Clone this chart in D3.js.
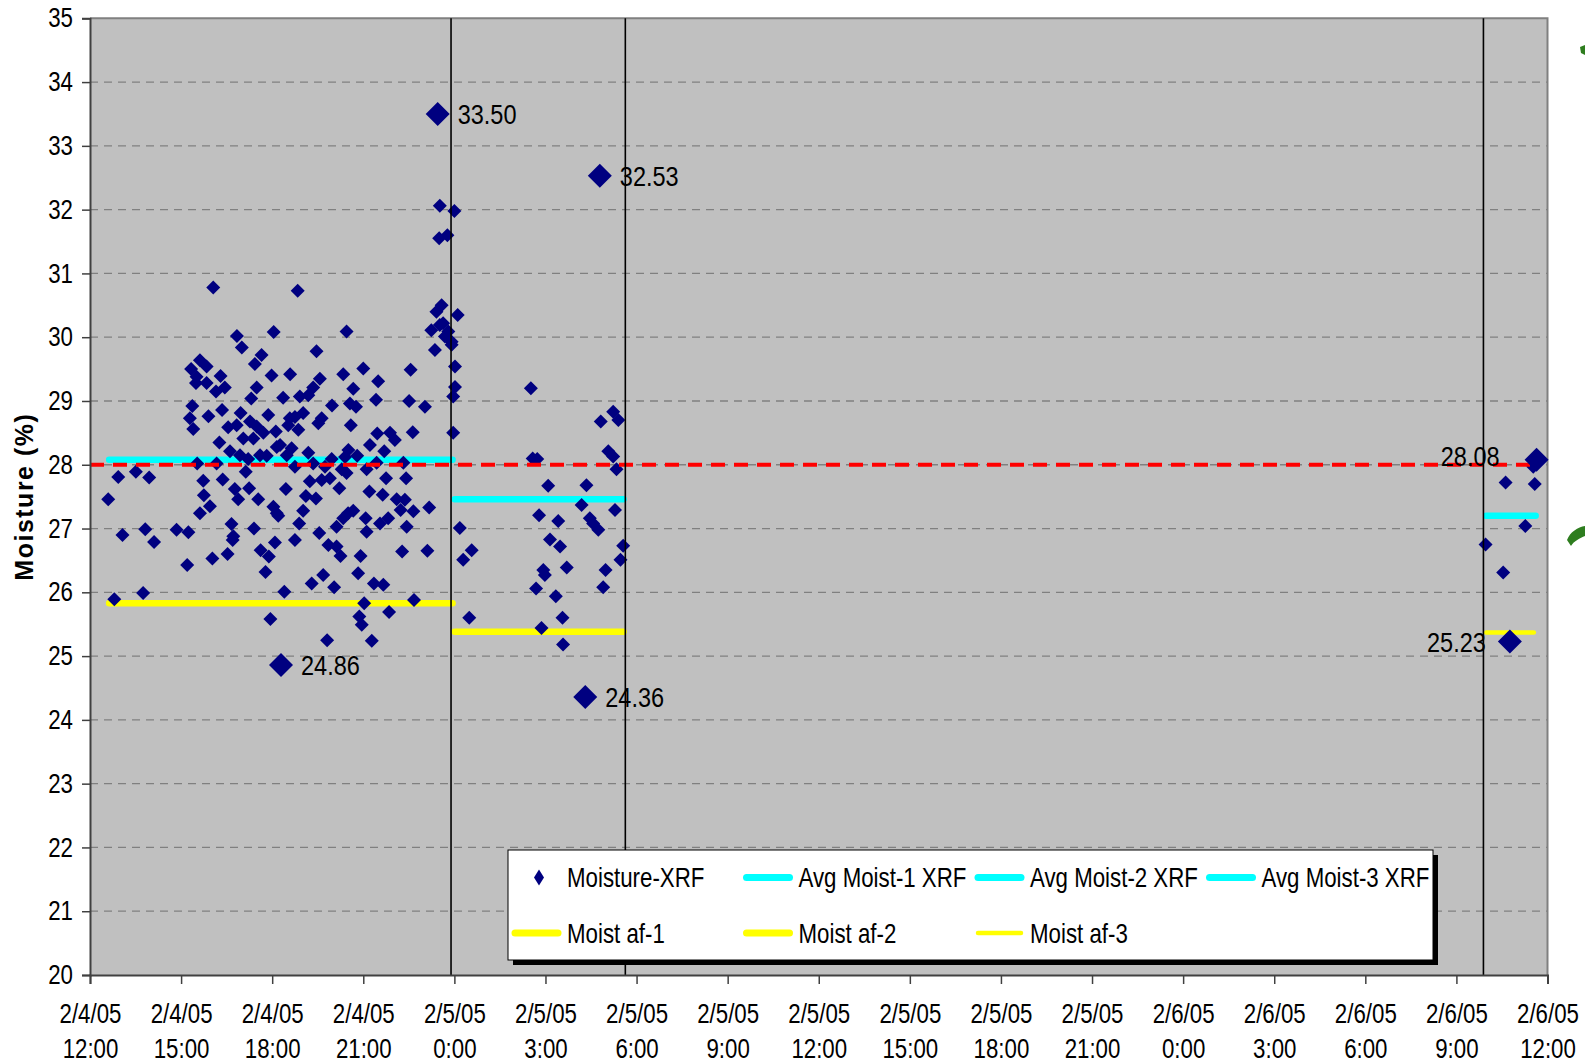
<!DOCTYPE html>
<html>
<head>
<meta charset="utf-8">
<script src="https://cdn.jsdelivr.net/npm/d3@7"></script>
<style>
  body { margin: 0; background: #fff; }
  svg { display: block; }
</style>
</head>
<body>
<div id="chart"></div>
<script>
// Moisture readings, XRF
// times are hours after 2/4/05 12:00
const startTime = '2/4/05 12:00';
const axisHours = [0, 48];
const tickStepHours = 3;
const moistureRange = [20, 35];
const targetMoisture = 28;

const xrfPoints = [
  [4.06,30.78],[4.84,30.02],[5.00,29.84],[6.05,30.08],[5.65,29.72],[5.43,29.58],[3.62,29.64],[3.84,29.54],
  [3.33,29.50],[3.51,29.38],[3.49,29.28],[3.84,29.28],[4.30,29.39],[4.15,29.15],[4.44,29.21],[5.98,29.40],
  [5.49,29.21],[5.31,29.04],[3.37,28.92],[3.90,28.76],[4.35,28.86],[3.29,28.73],[3.40,28.56],[4.96,28.81],
  [5.87,28.78],[4.83,28.62],[4.55,28.59],[5.27,28.68],[5.49,28.60],[5.71,28.50],[6.12,28.52],[5.05,28.41],
  [5.38,28.41],[4.26,28.35],[4.61,28.21],[4.94,28.15],[5.21,28.09],[5.60,28.15],[5.82,28.14],[6.15,28.28],
  [3.53,28.02],[4.17,28.02],[0.93,27.81],[1.51,27.89],[1.95,27.80],[5.13,27.89],[3.73,27.75],[4.37,27.77],
  [4.77,27.62],[5.24,27.63],[4.88,27.46],[5.54,27.46],[0.60,27.46],[3.75,27.52],[3.95,27.35],[3.62,27.24],
  [6.04,27.34],[6.15,27.24],[1.07,26.90],[1.82,26.99],[2.11,26.79],[2.85,26.98],[3.24,26.94],[4.66,27.07],
  [4.72,26.88],[4.70,26.82],[5.40,27.00],[6.09,26.78],[5.62,26.66],[5.89,26.56],[3.20,26.43],[4.03,26.53],
  [4.53,26.60],[5.78,26.32],[0.80,25.89],[1.75,25.99],[5.94,25.58],
  [6.84,30.73],[8.45,30.09],[7.46,29.78],[6.59,29.42],[7.57,29.35],[8.34,29.42],[9.00,29.51],[9.49,29.31],
  [10.56,29.49],[7.35,29.21],[7.19,29.09],[6.91,29.07],[6.36,29.05],[8.67,29.19],[8.56,28.96],[8.76,28.91],
  [7.97,28.93],[9.42,29.02],[10.51,29.00],[11.03,28.91],[7.02,28.81],[7.63,28.73],[7.52,28.65],[6.58,28.73],
  [6.75,28.75],[6.53,28.62],[6.86,28.55],[8.59,28.62],[9.46,28.49],[9.88,28.50],[10.04,28.39],[10.63,28.51],
  [9.22,28.31],[9.69,28.21],[6.26,28.31],[6.64,28.26],[6.48,28.15],[7.19,28.19],[7.96,28.09],[8.51,28.23],
  [8.40,28.12],[8.80,28.14],[6.75,27.97],[7.35,28.02],[7.74,27.97],[8.29,27.93],[9.11,27.93],[9.44,28.03],
  [10.32,28.03],[7.24,27.74],[7.63,27.76],[7.90,27.79],[8.21,27.63],[8.45,27.87],[9.75,27.79],[10.41,27.79],
  [6.45,27.62],[7.11,27.51],[7.44,27.47],[9.20,27.58],[9.64,27.53],[10.10,27.46],[10.37,27.45],[10.65,27.27],
  [11.17,27.33],[6.20,27.20],[7.02,27.28],[6.89,27.08],[8.50,27.24],[8.67,27.28],[8.34,27.16],[8.12,27.03],
  [9.08,27.16],[9.11,26.95],[9.55,27.08],[9.82,27.16],[10.23,27.29],[10.43,27.03],[7.55,26.93],[6.75,26.82],
  [7.85,26.74],[8.12,26.72],[8.25,26.57],[8.91,26.57],[10.28,26.64],[11.11,26.65],[7.68,26.27],[7.30,26.14],
  [8.04,26.08],[8.83,26.30],[9.35,26.14],[9.66,26.12],[6.40,26.01],[9.03,25.83],[10.67,25.88],[8.87,25.62],
  [8.95,25.49],[9.85,25.69],[7.81,25.25],[9.28,25.24],
  [11.58,30.50],[11.41,30.40],[11.24,30.11],[11.63,30.22],[11.80,30.09],[11.36,29.80],[11.91,29.93],[12.02,29.54],
  [12.02,29.22],[11.96,29.07],[11.96,28.50],[11.52,32.06],[12.00,31.98],[11.50,31.55],[11.77,31.60],[12.11,30.35],
  [11.52,30.19],[11.69,30.01],[11.91,29.88],
  [14.52,29.20],[17.23,28.83],[17.40,28.70],[16.82,28.68],[14.58,28.10],[14.73,28.09],[17.07,28.21],[17.23,28.13],
  [17.34,27.93],[15.09,27.67],[16.35,27.68],[16.19,27.37],[17.29,27.29],[12.18,27.01],[14.79,27.21],[15.42,27.12],
  [16.46,27.16],[16.57,27.08],[16.74,26.98],[12.57,26.66],[12.29,26.51],[15.15,26.83],[15.48,26.72],[17.56,26.73],
  [17.47,26.51],[14.93,26.35],[14.98,26.27],[15.70,26.39],[16.98,26.35],[14.69,26.06],[15.34,25.94],[16.90,26.08],
  [12.49,25.60],[15.56,25.60],[14.87,25.44],[15.58,25.18],
  [46.62,27.72],[47.58,27.70],[47.27,27.04],[45.96,26.75],[46.54,26.31],[47.53,27.97]
];

// max / min of each run, labelled
const peakPoints = [
  [11.45, 33.50], [16.79, 32.53], [6.29, 24.86], [16.31, 24.36], [46.76, 25.23], [47.64, 28.08]
];
const peaksLabelledLeft = [25.23, 28.08];

// run boundaries
const markerHours = [11.89, 17.63, 45.89];

const avgXrf = [
  { name: 'Avg Moist-1 XRF', from: 0.63, to: 11.94, value: 28.08 },
  { name: 'Avg Moist-2 XRF', from: 12.01, to: 17.57, value: 27.46 },
  { name: 'Avg Moist-3 XRF', from: 45.98, to: 47.61, value: 27.20 }
];
const moistAf = [
  { name: 'Moist af-1', from: 0.63, to: 11.94, value: 25.83 },
  { name: 'Moist af-2', from: 12.01, to: 17.57, value: 25.38 },
  { name: 'Moist af-3', from: 45.98, to: 47.55, value: 25.37 }
];
const legendNames = ['Moisture-XRF', 'Avg Moist-1 XRF', 'Avg Moist-2 XRF', 'Avg Moist-3 XRF',
  'Moist af-1', 'Moist af-2', 'Moist af-3'];

const width = 1585;
const height = 1064;
const plot = { left: 90, right: 1547.5, top: 18.3, bottom: 975 };
const sans = "'Liberation Sans', Arial, sans-serif";
const squeeze = 0.825;   // Arial -> Arial Narrow look
const navy = '#000080';

const parseTime = d3.timeParse('%m/%d/%y %H:%M');
const t0 = parseTime(startTime);
const atHour = h => new Date(t0.getTime() + h * 3600e3);

const x = d3.scaleTime()
  .domain(axisHours.map(atHour))
  .range([plot.left, plot.right]);
const y = d3.scaleLinear()
  .domain(moistureRange)
  .range([plot.bottom, plot.top]);

const svg = d3.select('#chart')
  .append('svg')
  .attr('width', width)
  .attr('height', height)
  .style('font-family', sans);

const diamond = (rx, ry) => `M0,${-ry}L${rx},0L0,${ry}L${-rx},0Z`;

// plot area
svg.append('rect')
  .attr('x', plot.left)
  .attr('y', plot.top)
  .attr('width', plot.right - plot.left)
  .attr('height', plot.bottom - plot.top)
  .attr('fill', '#c0c0c0');

// grid lines
svg.append('g')
  .selectAll('line')
  .data(d3.range(moistureRange[0] + 1, moistureRange[1]))
  .enter()
  .append('line')
  .attr('x1', plot.left)
  .attr('x2', plot.right)
  .attr('y1', d => y(d))
  .attr('y2', d => y(d))
  .attr('stroke', '#808080')
  .attr('stroke-width', 1.3)
  .attr('stroke-dasharray', '8,6');

// border top / right
svg.append('path')
  .attr('d', `M${plot.left},${plot.top}H${plot.right}V${plot.bottom}`)
  .attr('fill', 'none')
  .attr('stroke', '#808080')
  .attr('stroke-width', 2);

// avg + af segments
const segLine = (data, color, widthFn) => {
  svg.append('g')
    .selectAll('line')
    .data(data)
    .enter()
    .append('line')
    .attr('x1', d => x(atHour(d.from)))
    .attr('x2', d => x(atHour(d.to)))
    .attr('y1', d => y(d.value))
    .attr('y2', d => y(d.value))
    .attr('stroke', color)
    .attr('stroke-width', widthFn)
    .attr('stroke-linecap', 'round');
};
segLine(avgXrf, '#00ffff', 6.5);
segLine(moistAf, '#ffff00', (d, i) => i === 2 ? 4.5 : 6.5);

// XRF points
svg.append('g')
  .selectAll('path')
  .data(xrfPoints)
  .enter()
  .append('path')
  .attr('d', diamond(7, 7))
  .attr('transform', d => `translate(${x(atHour(d[0]))},${y(d[1])})`)
  .attr('fill', navy);

// target line
svg.append('line')
  .attr('x1', plot.left)
  .attr('x2', x(atHour(47.6)))
  .attr('y1', y(targetMoisture))
  .attr('y2', y(targetMoisture))
  .attr('stroke', '#ff0000')
  .attr('stroke-width', 4)
  .attr('stroke-dasharray', '14,9');

// run boundaries
svg.append('g')
  .selectAll('line')
  .data(markerHours)
  .enter()
  .append('line')
  .attr('x1', d => x(atHour(d)))
  .attr('x2', d => x(atHour(d)))
  .attr('y1', plot.top)
  .attr('y2', plot.bottom)
  .attr('stroke', '#000')
  .attr('stroke-width', 1.6);

// peaks
const peaks = svg.append('g')
  .selectAll('g')
  .data(peakPoints)
  .enter()
  .append('g')
  .attr('transform', d => `translate(${x(atHour(d[0]))},${y(d[1])})`);

peaks.append('path')
  .attr('d', diamond(12, 12))
  .attr('fill', navy);

peaks.append('text')
  .attr('transform', `scale(${squeeze},1)`)
  .attr('x', d => (peaksLabelledLeft.includes(d[1]) ? (d[1] === 28.08 ? -37 : -24) : 20) / squeeze)
  .attr('y', d => d[1] === 28.08 ? -4 : 0)
  .attr('dy', '0.36em')
  .attr('text-anchor', d => peaksLabelledLeft.includes(d[1]) ? 'end' : 'start')
  .attr('font-size', '28.5px')
  .attr('fill', '#000')
  .text(d => d3.format('.2f')(d[1]));

// axes
const yAxis = svg.append('g')
  .attr('transform', `translate(${plot.left},0)`)
  .call(d3.axisLeft(y).ticks(15).tickSize(8).tickPadding(8).tickFormat(d3.format('d')));
yAxis.select('.domain').attr('stroke', '#404040').attr('stroke-width', 2);
yAxis.selectAll('.tick line').attr('stroke', '#404040').attr('stroke-width', 1.5);
yAxis.selectAll('.tick text')
  .attr('font-family', sans)
  .attr('font-size', '27px')
  .attr('fill', '#000')
  .attr('transform', `scale(${squeeze},1)`)
  .attr('x', -17 / squeeze);

const xTicks = d3.range(axisHours[0], axisHours[1] + 1, tickStepHours).map(atHour);
const fmtDate = d3.timeFormat('%-m/%-d/%y');
const fmtTime = d3.timeFormat('%-H:%M');
const xAxis = svg.append('g')
  .attr('transform', `translate(0,${plot.bottom})`)
  .call(d3.axisBottom(x).tickValues(xTicks).tickSize(9).tickFormat(''));
xAxis.select('.domain').attr('stroke', '#404040').attr('stroke-width', 2);
xAxis.selectAll('.tick line').attr('stroke', '#404040').attr('stroke-width', 1.5);
const xLab = xAxis.selectAll('.tick text')
  .attr('font-family', sans)
  .attr('font-size', '27px')
  .attr('fill', '#000')
  .attr('transform', `scale(${squeeze},1)`)
  .attr('y', 0)
  .attr('dy', null);
xLab.append('tspan').attr('x', 0).attr('y', 48).text(d => fmtDate(d));
xLab.append('tspan').attr('x', 0).attr('y', 83).text(d => fmtTime(d));

// y title
svg.append('text')
  .attr('transform', `translate(33,${(plot.top + plot.bottom) / 2}) rotate(-90)`)
  .attr('text-anchor', 'middle')
  .attr('font-weight', 'bold')
  .attr('font-size', '25px')
  .attr('letter-spacing', '1.5px')
  .attr('fill', '#000')
  .text('Moisture (%)');

// legend
const legend = svg.append('g').attr('transform', 'translate(508,850)');
legend.append('rect')
  .attr('x', 5).attr('y', 5)
  .attr('width', 925).attr('height', 110)
  .attr('fill', '#000');
legend.append('rect')
  .attr('width', 925).attr('height', 110)
  .attr('fill', '#fff')
  .attr('stroke', '#000')
  .attr('stroke-width', 1);

const legendItems = legendNames.map((name, i) => ({
  name,
  kind: i === 0 ? 'point' : (i < 4 ? 'avg' : 'af'),
  col: i < 4 ? i : i - 4,
  row: i < 4 ? 0 : 1
}));
const colW = 231.5;
const rowY = [27.5, 83];
const item = legend.selectAll('.item')
  .data(legendItems)
  .enter()
  .append('g')
  .attr('class', 'item')
  .attr('transform', d => `translate(${d.col * colW},${rowY[d.row]})`);

item.filter(d => d.kind === 'point')
  .append('path')
  .attr('d', diamond(5, 8))
  .attr('transform', 'translate(31,0)')
  .attr('fill', navy);

item.filter(d => d.kind !== 'point')
  .append('line')
  .attr('x1', 7).attr('x2', 50)
  .attr('stroke', d => d.kind === 'avg' ? '#00ffff' : '#ffff00')
  .attr('stroke-width', d => d.name === 'Moist af-3' ? 4.5 : 7)
  .attr('stroke-linecap', 'round');

item.append('text')
  .attr('transform', `scale(${squeeze},1)`)
  .attr('x', 59 / squeeze)
  .attr('dy', '0.36em')
  .attr('font-size', '27px')
  .attr('fill', '#000')
  .text(d => d.name);

// bits of clip art cut by the page edge
svg.append('path')
  .attr('d', 'M1567,540 C1570,532 1578,527 1585,526 L1585,536 C1580,538 1574,541 1571,546 Z')
  .attr('fill', '#2e7d1f');
svg.append('path')
  .attr('d', 'M1580,47 L1585,45 L1585,55 L1581,53 Z')
  .attr('fill', '#2e7d1f');
</script>
</body>
</html>
